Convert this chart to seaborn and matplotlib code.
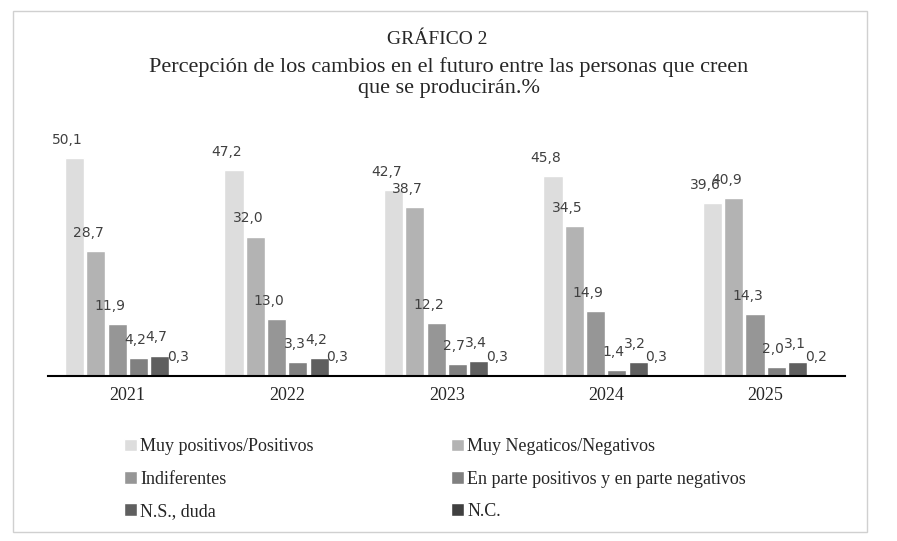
import pandas as pd
import numpy as np
import matplotlib.pyplot as plt
import seaborn as sns
from matplotlib.patches import Rectangle

years = ["2021", "2022", "2023", "2024", "2025"]
categories = ["Muy positivos/Positivos", "Muy Negaticos/Negativos", "Indiferentes",
              "En parte positivos y en parte negativos", "N.S., duda", "N.C."]
muy_positivos = [50.1, 47.2, 42.7, 45.8, 39.6]
muy_negativos = [28.7, 32.0, 38.7, 34.5, 40.9]
indiferentes = [11.9, 13.0, 12.2, 14.9, 14.3]
en_parte = [4.2, 3.3, 2.7, 1.4, 2.0]
ns_duda = [4.7, 4.2, 3.4, 3.2, 3.1]
nc = [0.3, 0.3, 0.3, 0.3, 0.2]
colors = ["#dddddd", "#b3b3b3", "#969696", "#808080", "#5f5f5f", "#404040"]

series = [muy_positivos, muy_negativos, indiferentes, en_parte, ns_duda, nc]
rows = []
for cat, vals in zip(categories, series):
    for y, v in zip(years, vals):
        rows.append({"Año": y, "Categoría": cat, "Valor": v})
df = pd.DataFrame(rows)

sns.set_theme(style="white")
plt.rcParams['font.family'] = ['Liberation Serif', 'DejaVu Serif']

fig = plt.figure(figsize=(8.97, 5.41), dpi=100)
ax = fig.add_axes([0.0535, 0.305, 0.889, 0.455])
sns.barplot(data=df, x="Año", y="Valor", hue="Categoría", hue_order=categories,
            palette=colors, width=0.8, gap=0.1, ax=ax, legend=True)

ax.set_ylim(0, 56.5)
ax.set_xlim(-0.5, 4.5)
ax.set_xlabel("")
ax.set_ylabel("")
ax.set_yticks([])
ax.tick_params(axis="x", labelsize=13, length=0, pad=8)
for s in ["top", "right", "left"]:
    ax.spines[s].set_visible(False)
ax.spines["bottom"].set_color("black")
ax.spines["bottom"].set_linewidth(1.5)

for cont in ax.containers:
    labels = [f"{v:.1f}".replace(".", ",") for v in cont.datavalues]
    texts = ax.bar_label(cont, labels=labels, padding=8, fontsize=10,
                         family="DejaVu Sans", color="#404040")
    for t in texts:
        t.set_ha("right")
        x0, y0 = t.xy
        t.xy = (x0 + 0.05, y0)

handles, labels = ax.get_legend_handles_labels()
ax.get_legend().remove()
order = [0, 2, 4, 1, 3, 5]
fig.legend([handles[i] for i in order], [labels[i] for i in order], ncol=2,
           loc="upper left", bbox_to_anchor=(0.12, 0.22), frameon=False,
           fontsize=13, handlelength=0.7, handleheight=0.7, handletextpad=0.2,
           columnspacing=7.6, labelspacing=0.85)

fig.text(0.487, 0.927, "GRÁFICO 2", ha="center", va="center", fontsize=14)
fig.text(0.5, 0.857, "Percepción de los cambios en el futuro entre las personas que creen\nque se producirán.%",
         ha="center", va="center", fontsize=16, linespacing=1.15)

fig.patches.append(Rectangle((0.014, 0.017), 0.952, 0.962, transform=fig.transFigure,
                             fill=False, edgecolor="#d0d0d0", linewidth=1))

fig.savefig("out.png", dpi=100)
